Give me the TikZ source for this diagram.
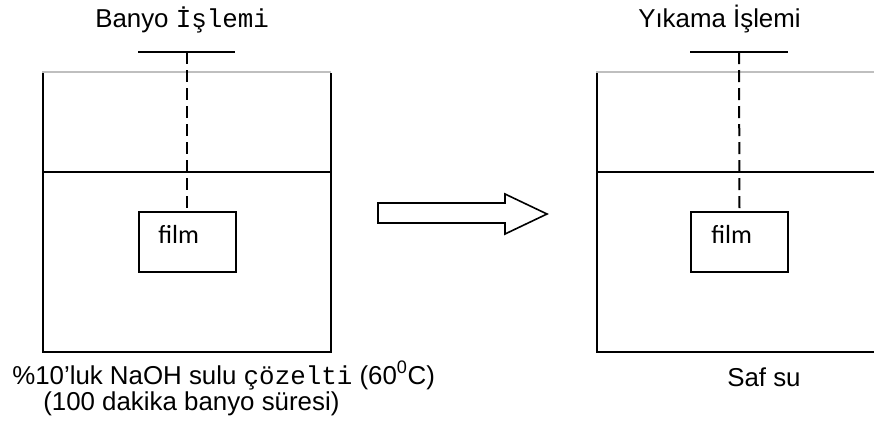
\documentclass[tikz,border=0pt]{standalone}
\usepackage{fontspec}
\setmainfont{Liberation Sans}
\newfontfamily\courierf{Liberation Mono}
\newfontfamily\carlitof{Carlito}
\begin{document}
\begin{tikzpicture}[x=0.75pt,y=-0.75pt,
  wall/.style={line width=1.5pt,black},
  rim/.style={line width=1pt,black!25},
  dashline/.style={line width=1.5pt,dash pattern=on 9pt off 4.5pt},
  filmbox/.style={draw,line width=1.5pt,minimum width=72.75pt,minimum height=45pt,inner sep=0pt},
  lbl/.style={inner sep=0pt,anchor=base west,font=\fontsize{19.4}{24}\selectfont},
  filmlbl/.style={inner sep=0pt,anchor=base west,font=\carlitof\fontsize{19.6}{24}\selectfont},
  bigarrow/.style={line width=1.2pt,line join=miter}]
\useasboundingbox (0,0) rectangle (874,425);
% left tank
\draw[rim] (42,72) -- (331,72);
\draw[wall] (43,73) -- (43,352) -- (331,352) -- (331,73);
\draw[wall] (43,172) -- (331,172);
% right tank
\draw[rim] (596,72) -- (880,72);
\draw[wall] (597,73) -- (597,352) -- (880,352);
\draw[wall] (597,172) -- (880,172);
% hangers
\coordinate (barAl) at (138,52);
\coordinate (barAr) at (235,52);
\coordinate (barA) at (187,52);
\coordinate (barBl) at (690,52);
\coordinate (barBr) at (788,52);
\coordinate (barB) at (739,52);
\draw[wall] (barAl) -- (barAr);
\draw[wall] (barBl) -- (barBr);
% film boxes
\node[filmbox] (fA) at (187,242) {};
\node[filmbox] (fB) at (739.5,242) {};
\draw[dashline] (barA) -- (fA.north);
\draw[dashline] (barB) -- (fB.north);
\node[filmlbl] (flA) at (158,243) {film};
\node[filmlbl] (flB) at (711,243) {film};
% arrow
\draw[bigarrow] (378,203) -- (505,203) -- (505,194) -- (547,214) -- (505,234) -- (505,223) -- (378,223) -- cycle;
% texts
\node[lbl] (tA) at (95,27) {Banyo {\courierf İşlemi}};
\node[lbl] (tB) at (638,27) {Yıkama İşlemi};
\node[lbl] (cA1) at (12,384) {\%10’luk NaOH sulu {\courierf çözelti} (60\textsuperscript{0}C)};
\node[lbl] (cA2) at (43,410) {(100 dakika banyo süresi)};
\node[lbl] (cB) at (727,386) {Saf su};
\end{tikzpicture}
\end{document}
